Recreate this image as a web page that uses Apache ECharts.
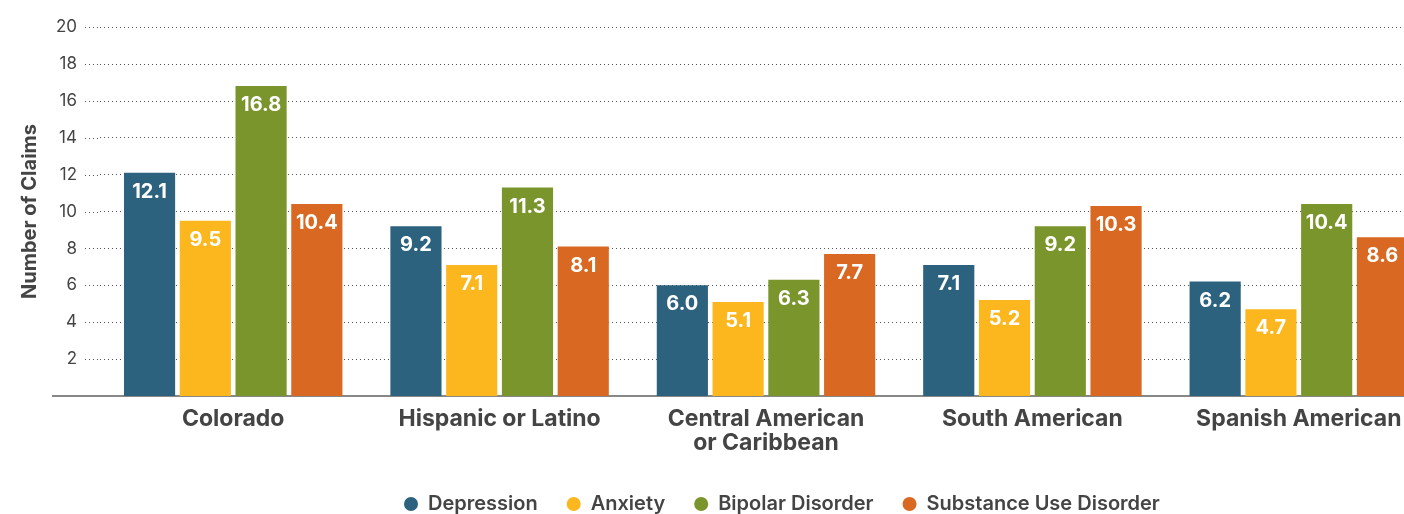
<!DOCTYPE html>
<html>
<head>
<meta charset="utf-8">
<script src="https://cdn.jsdelivr.net/npm/echarts@6/dist/echarts.min.js"></script>
<style>
  html, body { margin: 0; padding: 0; background: #fff; overflow: hidden; }
  #chart { width: 1432px; height: 514px; }
</style>
</head>
<body>
<div id="chart"></div>
<script>
// Groups along the x axis
const categories = ['Colorado', 'Hispanic or Latino', 'Central American\nor Caribbean', 'South American', 'Spanish American'];

// Number of claims per condition
const depression = [12.1, 9.2, 6.0, 7.1, 6.2];
const anxiety = [9.5, 7.1, 5.1, 5.2, 4.7];
const bipolar = [16.8, 11.3, 6.3, 9.2, 10.4];
const substanceUse = [10.4, 8.1, 7.7, 10.3, 8.6];

const seriesNames = ['Depression', 'Anxiety', 'Bipolar Disorder', 'Substance Use Disorder'];
const seriesColors = ['#2D627E', '#FBB71D', '#7B952D', '#D86822'];
const seriesData = [depression, anxiety, bipolar, substanceUse];

const FONT = 'Inter, "Open Sans", sans-serif';
const TEXT = '#444444';

const chart = echarts.init(document.getElementById('chart'), null, { renderer: 'canvas' });

const option = {
  animation: false,
  textStyle: { fontFamily: FONT },
  grid: { left: 100, top: 27, right: 0, height: 369, containLabel: false },
  legend: {
    bottom: -5,
    left: 399,
    icon: 'circle',
    itemWidth: 14,
    itemHeight: 14,
    itemGap: 29,
    textStyle: { fontFamily: FONT, fontSize: 20, fontWeight: 600, color: TEXT, padding: [0, 0, 0, 5] },
    data: seriesNames
  },
  xAxis: {
    type: 'category',
    data: categories,
    axisTick: { show: false },
    axisLine: { show: true, lineStyle: { color: '#888888', width: 2 } },
    axisLabel: {
      interval: 0,
      margin: 11,
      fontFamily: FONT,
      fontSize: 23,
      fontWeight: 'bold',
      color: TEXT,
      lineHeight: 24
    }
  },
  yAxis: {
    type: 'value',
    min: 0,
    max: 20,
    interval: 2,
    name: 'Number of Claims',
    nameLocation: 'middle',
    nameGap: 60,
    nameRotate: 90,
    nameTextStyle: { fontFamily: FONT, fontSize: 20, fontWeight: 'bold', color: TEXT },
    axisLine: { show: false },
    axisTick: { show: false },
    axisLabel: {
      margin: 23,
      fontFamily: FONT,
      fontSize: 17,
      color: TEXT,
      formatter: v => (v === 0 ? '' : String(v))
    },
    splitLine: {
      show: true,
      lineStyle: { color: '#555555', width: 1, type: [1, 3] }
    }
  },
  series: seriesNames.map((name, i) => ({
    name,
    type: 'bar',
    data: seriesData[i],
    barGap: '9%',
    barCategoryGap: '18%',
    itemStyle: { color: seriesColors[i] },
    label: {
      show: true,
      position: 'insideTop',
      distance: 9,
      fontFamily: FONT,
      fontSize: 20,
      fontWeight: 'bold',
      color: '#ffffff',
      formatter: p => p.value.toFixed(1)
    }
  }))
};

chart.setOption(option);

// Extend the baseline and the dotted gridlines to the left of the plot area
const gridLeft = option.grid.left;
const ticks = [];
for (let v = option.yAxis.min; v <= option.yAxis.max; v += option.yAxis.interval) ticks.push(v);
const extras = ticks.map(v => {
  const y = chart.convertToPixel({ yAxisIndex: 0 }, v);
  if (v === 0) {
    return { type: 'line', shape: { x1: 52, y1: y, x2: gridLeft, y2: y }, style: { stroke: '#888888', lineWidth: 2 }, z: 5 };
  }
  return { type: 'line', shape: { x1: 85, y1: Math.round(y) + 0.5, x2: gridLeft, y2: Math.round(y) + 0.5 }, style: { stroke: '#555555', lineWidth: 1, lineDash: [1, 3] }, z: 0 };
});
chart.setOption({ graphic: extras });
</script>
</body>
</html>
